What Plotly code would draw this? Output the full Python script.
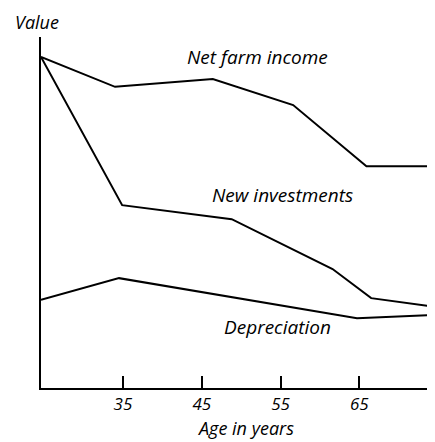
import plotly.graph_objects as go

# Data (age in years, value in arbitrary units 0-100)
income_age = [24.6, 34.0, 46.4, 56.6, 65.9, 74.6]
income_val = [94.3, 85.8, 88.0, 80.6, 63.2, 63.2]

invest_age = [24.6, 34.9, 48.8, 61.6, 66.5, 74.6]
invest_val = [94.3, 52.1, 48.1, 33.9, 25.6, 23.1]

deprec_age = [24.6, 34.5, 64.7, 74.6]
deprec_val = [25.1, 31.3, 19.9, 20.8]

tick_vals = [35, 45, 55, 65]
tick_text = ["35", "45", "55", "65"]

FONT = "Open Sans"
line_style = dict(color="black", width=2)

# page body has an 8px default margin; compensate so the plot lands where the reference has it
OFF = 8
L, T, PW, PH = 41 - OFF, 37 - OFF, 394, 351

fig = go.Figure()
for xs, ys in [(income_age, income_val), (invest_age, invest_val), (deprec_age, deprec_val)]:
    fig.add_trace(go.Scatter(x=xs, y=ys, mode="lines", line=line_style,
                             showlegend=False, hoverinfo="skip"))

fig.update_layout(
    width=435 - OFF, height=442 - OFF,
    margin=dict(l=L, r=0, t=T, b=442 - OFF - T - PH),
    paper_bgcolor="white", plot_bgcolor="white",
    font=dict(family=FONT, color="black", size=16),
    xaxis=dict(range=[24.6, 74.6], showgrid=False, zeroline=False,
               showline=True, linecolor="black", linewidth=2,
               ticks="inside", ticklen=12, tickwidth=1.5, tickcolor="black",
               tickvals=tick_vals, ticktext=tick_text,
               tickfont=dict(family=FONT, size=17, style="italic"),
               ticklabelstandoff=0,
               fixedrange=True),
    yaxis=dict(range=[0, 100], showgrid=False, zeroline=False,
               showline=True, linecolor="black", linewidth=2,
               showticklabels=False, ticks="", fixedrange=True),
)

ann_font = dict(family=FONT, size=19, color="black", style="italic")
labels = [
    ("Net farm income", 257, 57),
    ("New investments", 282, 195),
    ("Depreciation", 277, 327),
]
for text, px, py in labels:
    fig.add_annotation(text=text, x=(px - 41) / PW, y=(388 - py) / PH,
                       xref="paper", yref="paper", showarrow=False,
                       xanchor="center", yanchor="middle", font=ann_font)

fig.add_annotation(text="Value", x=(37 - 41) / PW, y=(388 - 22) / PH,
                   xref="paper", yref="paper", showarrow=False,
                   xanchor="center", yanchor="middle",
                   font=dict(family=FONT, size=18, color="black", style="italic"))
fig.add_annotation(text="Age in years", x=(246 - 41) / PW, y=(388 - 428) / PH,
                   xref="paper", yref="paper", showarrow=False,
                   xanchor="center", yanchor="middle",
                   font=dict(family=FONT, size=18, color="black", style="italic"))

fig.write_html("out.html")
